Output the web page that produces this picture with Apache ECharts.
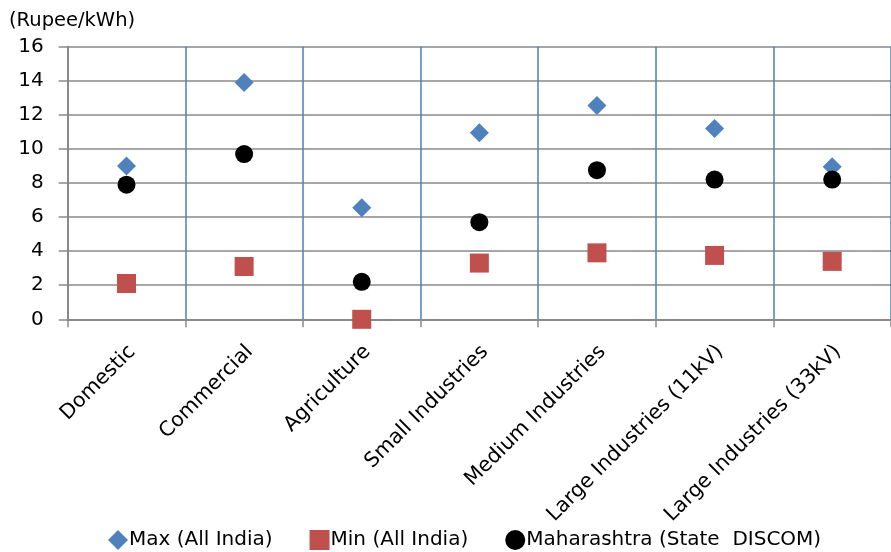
<!DOCTYPE html>
<html>
<head>
<meta charset="utf-8">
<style>
  html, body { margin: 0; padding: 0; background: #fff; }
  #chart { width: 891px; height: 552px; }
</style>
<script src="https://cdn.jsdelivr.net/npm/echarts@6/dist/echarts.min.js"></script>
</head>
<body>
<div id="chart"></div>
<script>
// Tariff categories
const categories = ['Domestic', 'Commercial', 'Agriculture', 'Small Industries',
  'Medium Industries', 'Large Industries (11kV)', 'Large Industries (33kV)'];

// Tariff in Rupee/kWh
const maxAllIndia = [9.0, 13.9, 6.55, 10.95, 12.55, 11.2, 8.95];
const minAllIndia = [2.1, 3.1, 0.0, 3.3, 3.9, 3.75, 3.4];
const maharashtra = [7.9, 9.7, 2.2, 5.7, 8.75, 8.2, 8.2];

const yTicks = { min: 0, max: 16, interval: 2 };
const seriesNames = ['Max (All India)', 'Min (All India)', 'Maharashtra (State  DISCOM)'];

const FONT = 'DejaVu Sans';
const gridGray = '#898989';

const chart = echarts.init(document.getElementById('chart'), null, { renderer: 'canvas' });

chart.setOption({
  animation: false,
  backgroundColor: '#ffffff',
  textStyle: { fontFamily: FONT, color: '#000' },
  title: {
    text: '(Rupee/kWh)',
    left: 4,
    top: 6,
    textStyle: { fontFamily: FONT, fontSize: 19.5, fontWeight: 'normal', color: '#000' }
  },
  grid: { left: 67.7, right: -9, top: 46.7, bottom: 232.7, containLabel: false },
  legend: {
    left: 103,
    top: 525,
    itemGap: 37,
    itemWidth: 20,
    itemHeight: 20,
    textStyle: { fontFamily: FONT, fontSize: 20, color: '#000', padding: [0, 0, 0, -4] },
    data: [
      { name: seriesNames[0], icon: 'diamond' },
      { name: seriesNames[1], icon: 'rect' },
      { name: seriesNames[2], icon: 'circle' }
    ]
  },
  xAxis: {
    type: 'category',
    data: categories,
    boundaryGap: true,
    axisLine: { show: true, lineStyle: { color: gridGray, width: 2 } },
    axisTick: { show: true, length: 8, interval: 0, lineStyle: { color: gridGray, width: 1.5 } },
    splitLine: { show: true, interval: 0, lineStyle: { color: '#4a7ebb', width: 1.5 } },
    axisLabel: {
      interval: 0,
      rotate: 45,
      margin: 35,
      fontFamily: FONT,
      fontSize: 20.5,
      color: '#000',
      formatter: function (v) { return '{c|' + v + '}'; },
      rich: {
        c: { fontFamily: FONT, fontSize: 20.5, color: '#000', padding: [0, -8, 0, 0] }
      }
    }
  },
  yAxis: {
    type: 'value',
    min: yTicks.min,
    max: yTicks.max,
    interval: yTicks.interval,
    axisLine: { show: true, lineStyle: { color: gridGray, width: 2 } },
    axisTick: { show: true, length: 9, lineStyle: { color: gridGray, width: 1.5 } },
    splitLine: { show: true, lineStyle: { color: gridGray, width: 1.5 } },
    axisLabel: { margin: 24, fontFamily: FONT, fontSize: 20, color: '#000' }
  },
  series: [
    {
      name: seriesNames[0],
      type: 'scatter',
      data: maxAllIndia,
      symbol: 'diamond',
      symbolSize: 19,
      itemStyle: { color: '#4f81bd', opacity: 1 },
      z: 3
    },
    {
      name: seriesNames[1],
      type: 'scatter',
      data: minAllIndia,
      symbol: 'rect',
      symbolSize: 19,
      itemStyle: { color: '#c0504d', opacity: 1 },
      z: 3
    },
    {
      name: seriesNames[2],
      type: 'scatter',
      data: maharashtra,
      symbol: 'circle',
      symbolSize: 18,
      itemStyle: { color: '#000000', opacity: 1 },
      z: 4
    }
  ]
});
</script>
</body>
</html>
